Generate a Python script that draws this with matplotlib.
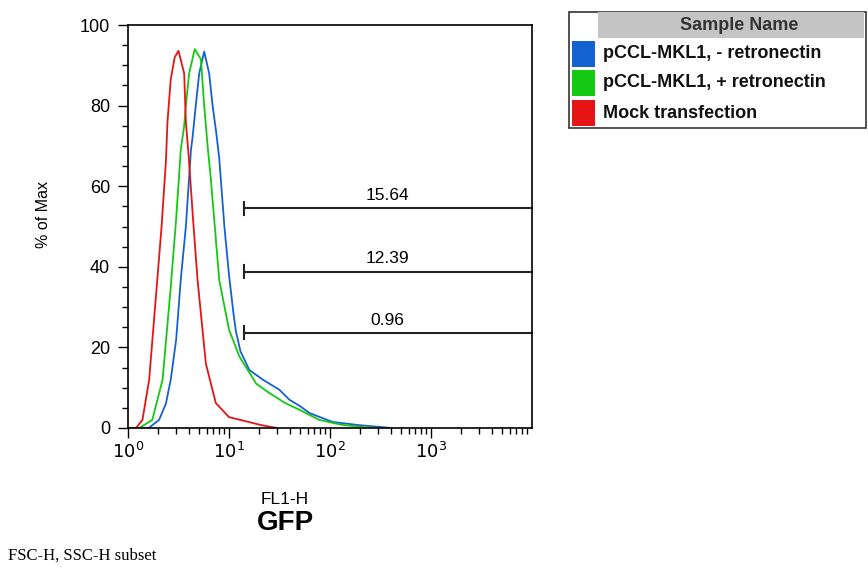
import matplotlib.pyplot as plt
from matplotlib.patches import Rectangle
from matplotlib.ticker import FixedLocator, LogLocator, NullFormatter

plt.rcParams['font.family'] = ['Liberation Sans', 'DejaVu Sans']

# histogram traces (FL1-H, % of max)
blue_x = [1.0, 1.6, 2.03, 2.37, 2.65, 3.0, 3.33, 3.74, 4.2, 4.35, 4.69, 5.07, 5.68, 6.36,
          6.88, 7.5, 8.0, 9.0, 10.0, 11.0, 11.7, 13, 15.9, 21.6, 31.5, 39.7, 50, 62.7,
          106, 196, 334, 400]
blue_y = [0, 0, 2, 6, 12, 22, 36.8, 50, 69, 72, 80, 88, 93.4, 88,
          80, 73, 67, 50, 38, 29, 24, 19, 14.4, 12, 9.5, 7, 5.5, 3.7,
          1.5, 0.7, 0.2, 0]
green_x = [1.0, 1.29, 1.74, 2.2, 2.65, 3.0, 3.33, 3.6, 3.74, 4.03, 4.58, 5.27, 5.68, 6.14,
           6.6, 8.0, 10, 12.7, 18.6, 25, 36, 50, 78.6, 130, 220, 300]
green_y = [0, 0, 2, 12, 35, 52, 69, 75, 80, 88, 94, 91.5, 80, 70,
           62, 36.8, 24.4, 17.7, 11, 8.7, 6.2, 4.5, 2, 0.8, 0.2, 0]
red_x = [1.0, 1.2, 1.39, 1.62, 1.95, 2.15, 2.37, 2.46, 2.65, 2.9, 3.16, 3.6, 3.74, 4.0,
         4.4, 4.88, 5.9, 7.4, 10, 21, 27, 30]
red_y = [0, 0, 2, 12, 36.8, 50, 66, 76, 86.5, 92, 93.6, 88, 76, 67,
         52, 36.8, 16, 6.2, 2.7, 0.7, 0.2, 0]

# gates
gate_vals = ['15.64', '12.39', '0.96']
gate_y = [54.5, 38.8, 23.6]
gate_left = 14.2
gate_right = 1e4
gate_label_x = 370

legend_names = ['pCCL-MKL1, - retronectin', 'pCCL-MKL1, + retronectin', 'Mock transfection']
legend_colors = ['#1462d2', '#14c814', '#e61414']

fig = plt.figure(figsize=(8.68, 5.71), dpi=100)
ax = fig.add_axes([128 / 868, 1 - 428 / 571, 404 / 868, 403 / 571])

ax.plot(blue_x, blue_y, color=legend_colors[0], lw=1.3)
ax.plot(green_x, green_y, color=legend_colors[1], lw=1.3)
ax.plot(red_x, red_y, color=legend_colors[2], lw=1.3)

for v, y in zip(gate_vals, gate_y):
    ax.plot([gate_left, gate_right], [y, y], color='#222222', lw=1.5, clip_on=False)
    ax.plot([gate_left, gate_left], [y - 1.6, y + 1.6], color='#222222', lw=1.5)
    ax.text(gate_label_x, y + 1.3, v, ha='center', va='bottom', fontsize=12.5)

ax.set_xscale('log')
ax.set_xlim(1, 1e4)
ax.set_ylim(0, 100)
ax.xaxis.set_major_locator(FixedLocator([1, 10, 100, 1000]))
ax.set_xticklabels(['$10^0$', '$10^1$', '$10^2$', '$10^3$'])
ax.xaxis.set_minor_locator(LogLocator(base=10, subs=range(2, 10)))
ax.xaxis.set_minor_formatter(NullFormatter())
ax.set_yticks([0, 20, 40, 60, 80, 100])
ax.set_yticks(range(0, 101, 5), minor=True)
ax.tick_params(axis='both', which='major', direction='out', length=7, width=1, labelsize=13)
ax.tick_params(axis='both', which='minor', direction='out', length=4, width=1)
ax.tick_params(axis='y', pad=6)
ax.tick_params(axis='x', pad=3)
for s in ax.spines.values():
    s.set_linewidth(1.2)

fig.text(43 / 868, 1 - 214 / 571, '% of Max', rotation=90, ha='center', va='center', fontsize=11.5)
fig.text(285 / 868, 1 - 499 / 571, 'FL1-H', ha='center', va='center', fontsize=12.5)
fig.text(286 / 868, 1 - 523 / 571, 'GFP', ha='center', va='center', fontsize=20, fontweight='bold')
fig.text(8 / 868, 1 - 556 / 571, 'FSC-H, SSC-H subset', ha='left', va='center', fontsize=12,
         family='Liberation Serif')

# sample table legend
W, H = 868, 571
fig.patches.append(Rectangle((569 / W, 1 - 128 / H), 297 / W, 116 / H, transform=fig.transFigure,
                             facecolor='white', edgecolor='#333333', lw=1.2))
fig.patches.append(Rectangle((598 / W, 1 - 38 / H), 266 / W, 26 / H, transform=fig.transFigure,
                             facecolor='#c4c4c4', edgecolor='none'))
fig.text(739 / W, 1 - 26 / H, 'Sample Name', ha='center', va='center', fontsize=13,
         fontweight='bold', color='#333333')
row_tops = [41, 70, 100]
for name, c, top in zip(legend_names, legend_colors, row_tops):
    fig.patches.append(Rectangle((572 / W, 1 - (top + 26) / H), 23 / W, 26 / H,
                                 transform=fig.transFigure, facecolor=c, edgecolor='none'))
    fig.text(603 / W, 1 - (top + 13) / H, name, ha='left', va='center', fontsize=13,
             fontweight='bold', color='#111111')

fig.savefig('out.png', dpi=100)
